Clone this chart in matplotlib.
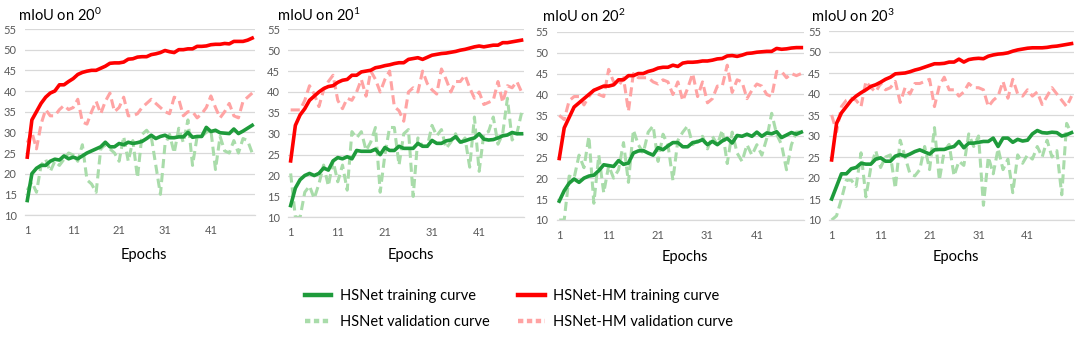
import matplotlib
matplotlib.use("Agg")
import matplotlib.pyplot as plt
from matplotlib.lines import Line2D
import numpy as np

plt.rcParams['font.family'] = ['Lato', 'DejaVu Sans']
plt.rcParams['mathtext.fontset'] = 'custom'
plt.rcParams['mathtext.rm'] = 'Lato'
plt.rcParams['mathtext.it'] = 'Lato'
plt.rcParams['mathtext.bf'] = 'Lato'

epochs = list(range(1, 51))
titles = ["mIoU on 20$^{0}$", "mIoU on 20$^{1}$", "mIoU on 20$^{2}$", "mIoU on 20$^{3}$"]
xtick_labels = [1, 11, 21, 31, 41]
ytick_values = [10, 15, 20, 25, 30, 35, 40, 45, 50, 55]

# Panel 1 (20^0)
hm_train_0 = [24, 33, 35, 37, 38.5, 39.5, 40, 41.5, 41.5, 42.3, 43, 44, 44.5, 44.8, 45, 45, 45.5, 46, 46.7, 46.8,
              46.8, 47, 47.7, 47.8, 48.2, 48.3, 48.3, 48.8, 49, 49.3, 49.8, 49.5, 49.3, 50, 50, 50.2, 50.2, 50.8, 50.8, 50.9,
              51.2, 51.3, 51.3, 51.5, 51.4, 52, 52, 52, 52.3, 52.8]
hm_val_0 = [27.5, 30, 26, 32, 35.5, 34, 34, 35.5, 36.5, 35.5, 36, 38, 32.5, 32, 35, 37.5, 34.5, 37.5, 39.5, 35,
            36, 38.5, 34, 34, 34.5, 36, 37, 38, 37, 36, 35, 34.5, 38.5, 38, 34, 35, 35, 33.5, 34.5, 36,
            38.8, 36, 33.5, 35, 37, 34, 33.5, 37.5, 38.5, 39.5]
hs_train_0 = [13.5, 20, 21.3, 22, 22, 23, 23.5, 23.3, 24.3, 23.6, 24, 23.6, 24.3, 25, 25.5, 26, 26.5, 27.6, 26.5, 26.5,
              27.3, 27, 27.6, 27.3, 27.5, 27.8, 28.5, 29.3, 28.5, 29, 29.3, 28.7, 28.7, 28.9, 28.9, 30, 28.8, 29, 29, 31.2,
              30.2, 30.5, 29.9, 29.8, 29.7, 30.8, 29.7, 30.3, 31, 31.7]
hs_val_0 = [16, 18, 15.5, 22, 23.5, 20.5, 23, 22, 23.5, 25, 24.5, 23, 27, 18.5, 17.5, 15.5, 26, 27, 26, 25,
            23, 29, 23, 28, 19, 29.5, 30.5, 29, 22, 15, 27, 29.5, 25, 31, 27.5, 33, 22, 29, 29, 30,
            30.5, 21, 29, 25.5, 25, 28, 25, 28.5, 28, 25]

# Panel 2 (20^1)
hm_train_1 = [23.5, 32, 34.5, 36, 38, 39, 40, 40.8, 41.3, 41.5, 42.3, 42.8, 43, 44, 44, 44.8, 45, 45.2, 45.8, 46,
              46.3, 46.5, 46.8, 47, 47, 47.8, 48, 48.2, 47.8, 48.3, 48.8, 49, 49.2, 49.3, 49.5, 49.7, 50, 50.2, 50.5, 50.8,
              51, 50.8, 51, 51.2, 51.2, 51.8, 51.8, 52, 52.2, 52.4]
hm_val_1 = [35.7, 35.7, 35.7, 38, 41.5, 39.5, 36.5, 40.5, 42.5, 44, 38, 36, 38.5, 38, 40, 43, 39, 45, 43, 40,
            43, 45, 36.5, 35.5, 33, 40, 41, 40, 45, 42, 40.5, 39.5, 45.5, 43, 40, 42.5, 42.5, 44, 41, 38.5,
            40, 37, 37.5, 38, 42.5, 37.5, 41.5, 41, 42.5, 40]
hs_train_1 = [12.8, 17, 19, 20, 20.5, 20, 20.5, 21.8, 21.3, 23.5, 24.3, 24, 24.5, 24, 26, 25.8, 25.8, 25.8, 26.3, 25,
              26.7, 26, 26, 27, 26.5, 26.5, 26.5, 27.7, 27, 27, 28.4, 27.7, 27.7, 28.3, 28.5, 29.3, 28, 28.3, 28.7, 29,
              30, 28.7, 28.5, 28.6, 29, 29.5, 29.7, 30.3, 30, 30]
hs_val_1 = [20.5, 10, 10, 16, 17.5, 14.5, 18, 22.5, 17.5, 23.5, 18.5, 22.5, 16.5, 30.5, 29, 30.5, 26, 28, 31.5, 16,
            25, 31.5, 31.5, 22.5, 30, 31, 15, 29, 27, 27, 32, 29.5, 31, 26.5, 28, 30, 27.5, 29, 22, 34,
            21, 30, 30.5, 34, 27.5, 30, 38.5, 28.5, 30, 35]

# Panel 3 (20^2)
hm_train_2 = [24.7, 32, 34.5, 37, 38, 39, 40, 41, 41.5, 42, 42, 42.3, 43.5, 43.5, 44.5, 44.5, 45, 45, 45.5, 45.8,
              46.3, 46.5, 46.5, 47, 46.7, 47.5, 47.7, 47.7, 47.8, 48, 48, 48.2, 48.5, 48.6, 49.2, 49.3, 49.1, 49.4, 49.8, 49.9,
              50.1, 50.2, 50.3, 50.3, 51, 50.8, 50.9, 51.1, 51.2, 51.2]
hm_val_2 = [35, 34, 38.5, 39.5, 39.5, 37.5, 39.5, 41, 40, 39.5, 46, 43, 42, 44, 36, 45, 44, 44, 44, 43,
            42.5, 43.5, 43, 40, 43, 38.5, 41.5, 45, 39.5, 43, 38, 39, 42, 42, 47, 40.5, 43.5, 43, 39, 41,
            42.5, 42, 40, 39.5, 45.5, 45.5, 44, 45, 44.5, 45]
hs_train_2 = [14.5, 17, 18.8, 19.8, 19, 20, 20.5, 20.7, 21.8, 23.2, 23, 22.8, 24.2, 23.3, 23.6, 26, 26.5, 26.6, 26, 25.5,
              27.3, 26.8, 27.7, 28.5, 28.5, 27.5, 27.5, 28.5, 28.7, 29.2, 28, 28.8, 28, 28.9, 29.5, 28.4, 30.2, 30, 30.5, 30,
              31, 30, 30.8, 30.6, 31.1, 29.7, 30.3, 30.9, 30.5, 31]
hs_val_2 = [10, 10, 20.5, 20, 25.5, 22.5, 30, 14, 25.5, 16.5, 23, 20, 22, 28.5, 19, 31.5, 28, 26, 31, 32.5,
            24, 30.5, 28, 19.5, 29, 31, 32.5, 28, 29, 30, 27, 30, 28, 31.5, 23.5, 31, 26, 24, 28, 25.5,
            28, 25.5, 29.5, 35.5, 30.5, 28, 22, 28, 31, 31]

# Panel 4 (20^3)
hm_train_3 = [24.3, 33, 35.5, 37, 38.5, 39.5, 40.3, 41, 41.8, 42.2, 42.8, 43.5, 44, 44.8, 44.9, 45, 45.3, 45.7, 46, 46.4,
              46.8, 47.2, 47.2, 47.3, 47.6, 47.6, 48.3, 47.6, 48.2, 48.4, 48.5, 48.4, 49, 49.3, 49.5, 49.6, 49.8, 50.2, 50.5, 50.7,
              50.9, 51, 51, 51, 51.1, 51.3, 51.4, 51.6, 51.8, 52]
hm_val_3 = [35, 31, 37, 38.5, 39, 38.5, 37, 43, 41.5, 40.5, 42.5, 41, 41.5, 43, 38, 41.5, 40, 42.5, 42.5, 43,
            43.5, 37, 42, 44, 41, 41, 39.5, 40.5, 42.5, 41.5, 41.5, 41, 37, 38.5, 39.5, 43, 39, 43.5, 40, 39.5,
            41, 39.5, 40.5, 37.5, 39.5, 41.5, 40, 38.5, 37, 39.5]
hs_train_3 = [15, 18, 21, 21, 22.2, 22.5, 23.5, 23.3, 23.3, 24.5, 24.8, 24, 24, 25.2, 25.6, 25.2, 25.7, 26.3, 26.7, 26.2,
              25.7, 26.7, 26.8, 26.8, 27.2, 27.5, 28.7, 27.2, 28.3, 28.3, 28.5, 28.7, 28.7, 29.5, 27.5, 29.5, 29.5, 28.5, 29.2, 28.8,
              29, 30.5, 31.3, 30.8, 30.7, 30.9, 30.8, 30, 30.3, 30.8]
hs_val_3 = [10, 11, 15, 19.5, 19.5, 18, 26, 15.5, 22.5, 26.5, 22.5, 25, 25.5, 17.5, 29, 25, 21, 20.5, 22, 27.5,
            22, 32, 19.5, 26.5, 28, 20.5, 24, 23, 30.5, 27.5, 30, 13.5, 25, 21, 27, 22, 24.5, 16.5, 25.5, 23.5,
            25.5, 24.5, 27.5, 25, 29, 25, 26.5, 16, 33, 30.5]

panels = [
    (hm_train_0, hm_val_0, hs_train_0, hs_val_0),
    (hm_train_1, hm_val_1, hs_train_1, hs_val_1),
    (hm_train_2, hm_val_2, hs_train_2, hs_val_2),
    (hm_train_3, hm_val_3, hs_train_3, hs_val_3),
]

W, H = 1075, 350
# plot-area pixel boxes: (left, right, y of 55, y of 10)
boxes = [(25, 254.5, 29, 215), (288.3, 523.9, 29.3, 217.3), (556.8, 803.8, 31.7, 220), (829.2, 1074, 31, 220)]
title_pos = [(18, 15), (277, 15), (542, 16), (811, 16)]
epochs_y = [255, 255, 257, 257]

RED = '#FF0000'
GREEN = '#1E9B3B'
LRED = '#FFA3A3'
LGREEN = '#A9DCAA'
GRID = '#D9D9D9'
TXT = '#595959'

fig = plt.figure(figsize=(W / 100, H / 100), dpi=100)

for i, (hm_t, hm_v, hs_t, hs_v) in enumerate(panels):
    l, r, ytop, ybot = boxes[i]
    ax = fig.add_axes([l / W, 1 - ybot / H, (r - l) / W, (ybot - ytop) / H])
    ax.set_xlim(0.5, 50.5)
    ax.set_ylim(10, 55)
    ax.set_yticks(ytick_values)
    ax.set_xticks(xtick_labels)
    ax.set_xticklabels([str(v) for v in xtick_labels])
    ax.grid(axis='y', color=GRID, linewidth=0.9)
    ax.set_axisbelow(True)
    for s in ['top', 'right', 'left']:
        ax.spines[s].set_visible(False)
    ax.spines['bottom'].set_color(GRID)
    ax.spines['bottom'].set_linewidth(0.9)
    ax.tick_params(length=0, labelsize=8, colors=TXT, pad=6)
    ax.tick_params(axis='x', pad=7)
    dash = (0, (3, 1.6))
    ax.plot(epochs, hm_v, color=LRED, lw=2.2, linestyle=dash, zorder=2)
    ax.plot(epochs, hs_v, color=LGREEN, lw=2.2, linestyle=dash, zorder=2)
    ax.plot(epochs, hs_t, color=GREEN, lw=2.6, zorder=3, solid_joinstyle='round')
    ax.plot(epochs, hm_t, color=RED, lw=2.6, zorder=3, solid_joinstyle='round')
    fig.text((l + r) / 2 / W + 0.004, 1 - epochs_y[i] / H, 'Epochs', fontsize=10.5,
             ha='center', va='center')
    tx, ty = title_pos[i]
    fig.text(tx / W, 1 - ty / H, titles[i], fontsize=10.5, ha='left', va='center')

handles = [
    Line2D([], [], color=GREEN, lw=3.2),
    Line2D([], [], color=LGREEN, lw=3.2, linestyle=(0, (1.2, 0.8))),
    Line2D([], [], color=RED, lw=3.2),
    Line2D([], [], color=LRED, lw=3.2, linestyle=(0, (1.2, 0.8))),
]
labels = ['HSNet training curve', 'HSNet validation curve',
          'HSNet-HM training curve', 'HSNet-HM validation curve']
fig.legend(handles, labels, ncol=2, loc='center', bbox_to_anchor=(519 / W, 1 - 309 / H),
           frameon=False, fontsize=10.5, handlelength=1.8, handletextpad=0.6,
           columnspacing=2.0, labelspacing=0.85)

fig.savefig('out.png', dpi=100)
